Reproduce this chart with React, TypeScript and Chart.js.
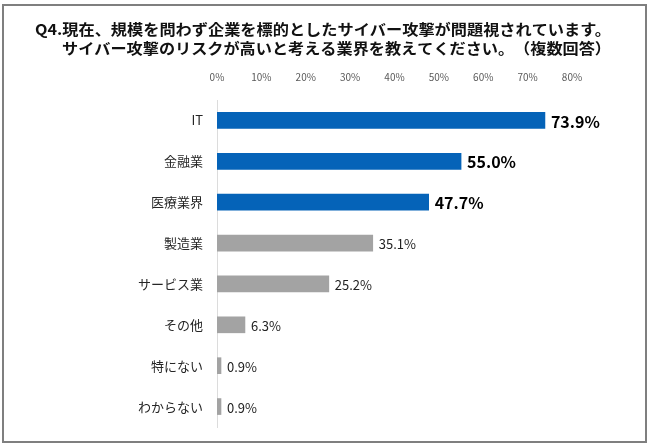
import React, { useEffect, useRef } from "react";
import { Chart, registerables } from "chart.js";

Chart.register(...registerables);

const TITLE_LINES = [
  "Q4.現在、規模を問わず企業を標的としたサイバー攻撃が問題視されています。",
  "サイバー攻撃のリスクが高いと考える業界を教えてください。　（複数回答）",
];

const categories = ["IT", "金融業", "医療業界", "製造業", "サービス業", "その他", "特にない", "わからない"];
const values = [73.9, 55.0, 47.7, 35.1, 25.2, 6.3, 0.9, 0.9];
const highlighted = [true, true, true, false, false, false, false, false];
const axisMin = 0;
const axisMax = 80;
const axisStep = 10;

const FONT = '"Noto Sans CJK JP", "Noto Sans", sans-serif';
const BLUE = "#0563B8";
const GRAY = "#A3A3A3";

const framePlugin = {
  id: "frame",
  beforeDraw(chart: any) {
    const ctx = chart.ctx;
    ctx.save();
    ctx.fillStyle = "#ffffff";
    ctx.fillRect(0, 0, chart.width, chart.height);
    ctx.strokeStyle = "#7f7f7f";
    ctx.lineWidth = 2;
    ctx.strokeRect(3, 5, chart.width - 7, chart.height - 10);
    ctx.restore();
  },
};

const titlePlugin = {
  id: "titleLines",
  afterDraw(chart: any) {
    const ctx = chart.ctx;
    const rightEdge = 611;
    const targets = [576, 549];
    const ys = [29, 48];
    ctx.save();
    ctx.font = `bold 15px ${FONT}`;
    ctx.fillStyle = "#111111";
    ctx.textBaseline = "middle";
    ctx.textAlign = "left";
    TITLE_LINES.forEach((line, i) => {
      const w = ctx.measureText(line).width;
      const sx = targets[i] / w;
      ctx.save();
      ctx.translate(rightEdge - targets[i], ys[i]);
      ctx.scale(sx, 1);
      ctx.fillText(line, 0, 0);
      ctx.restore();
    });
    ctx.restore();
  },
};

const valueLabelPlugin = {
  id: "valueLabels",
  afterDatasetsDraw(chart: any) {
    const ctx = chart.ctx;
    const meta = chart.getDatasetMeta(0);
    ctx.save();
    ctx.textBaseline = "middle";
    ctx.textAlign = "left";
    meta.data.forEach((bar: any, i: number) => {
      const hi = highlighted[i];
      ctx.font = hi ? `bold 16px ${FONT}` : `13px ${FONT}`;
      ctx.fillStyle = hi ? "#000000" : "#222222";
      ctx.fillText(values[i].toFixed(1) + "%", bar.x + 6, bar.y + 1);
    });
    ctx.restore();
  },
};

export default function App() {
  const ref = useRef<HTMLCanvasElement>(null);
  useEffect(() => {
    document.body.style.margin = "0";
    const chart = new Chart(ref.current as HTMLCanvasElement, {
      type: "bar",
      data: {
        labels: categories,
        datasets: [
          {
            data: values,
            backgroundColor: highlighted.map((h) => (h ? BLUE : GRAY)),
            borderWidth: 0,
            barThickness: 16,
          },
        ],
      },
      options: {
        indexAxis: "y",
        responsive: false,
        animation: false,
        layout: { padding: { top: 60, right: 78, bottom: 20, left: 0 } },
        plugins: { legend: { display: false }, tooltip: { enabled: false }, title: { display: false } },
        scales: {
          x: {
            position: "top",
            min: axisMin,
            max: axisMax,
            grid: { display: false },
            border: { display: false },
            ticks: {
              stepSize: axisStep,
              padding: 9,
              color: "#595959",
              font: { size: 10, family: FONT },
              callback: (v: any) => v + "%",
            },
            afterFit: (scale: any) => {
              scale.height = 40;
            },
          },
          y: {
            grid: { display: false },
            border: { display: true, color: "#dcdcdc", width: 1 },
            ticks: {
              padding: 6,
              color: "#262626",
              font: { size: 13, family: FONT },
            },
            afterFit: (scale: any) => {
              scale.width = 217;
            },
          },
        },
      },
      plugins: [framePlugin, titlePlugin, valueLabelPlugin],
    });
    return () => chart.destroy();
  }, []);
  return <canvas ref={ref} width={650} height={447} style={{ display: "block" }} />;
}
